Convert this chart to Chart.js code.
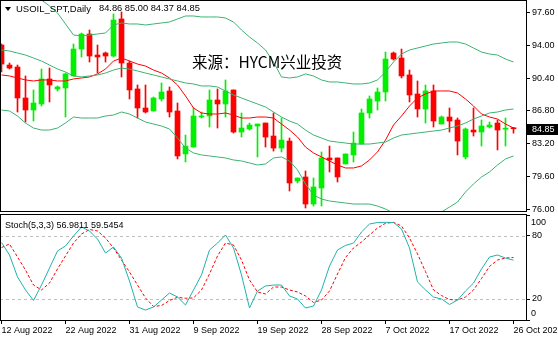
<!DOCTYPE html>
<html>
<head>
<meta charset="utf-8">
<script src="https://cdn.jsdelivr.net/npm/chart.js@4.4.0/dist/chart.umd.min.js"></script>
<style>
html, body { margin: 0; padding: 0; background: #fff; }
#wrap { position: relative; width: 558px; height: 337px; overflow: hidden; font-family: "Liberation Sans", Arial, sans-serif; }
canvas { position: absolute; left: 0; }
#main { top: 0; }
#stoch { top: 213px; }
.txt { position: absolute; white-space: nowrap; color: #000; }
</style>
</head>
<body>
<div id="wrap">
  <canvas id="main" width="558" height="213"></canvas>
  <canvas id="stoch" width="558" height="124"></canvas>
  <div style="position:absolute;left:5px;top:7px;width:0;height:0;border-left:3px solid transparent;border-right:3px solid transparent;border-top:4px solid #000"></div>
  <div class="txt" style="left:16px;top:4px;font-size:9.5px;line-height:9.5px">USOIL_SPT,Daily</div>
  <div class="txt" style="left:99px;top:4px;font-size:9.3px;line-height:9.3px">84.86 85.00 84.37 84.85</div>
  <div class="txt" style="left:192px;top:54px;font-size:15.5px;line-height:15px;font-family:'Noto Sans CJK SC',sans-serif">来源：HYCM兴业投资</div>
  <div class="txt" style="left:5px;top:221px;font-size:9px;line-height:9px">Stoch(5,3,3) 56.9811 59.5454</div>
</div>
<script>
// ============================
// Data (daily bars, Sunday bars included)
// ============================
const augDays = [12, 14, 15, 16, 17, 18, 19, 21, 22, 23, 24, 25, 26, 28, 29, 30, 31];
const sepDays = [1, 2, 4, 5, 6, 7, 8, 9, 11, 12, 13, 14, 15, 16, 18, 19, 20, 21, 22, 23, 25, 26, 27, 28, 29, 30];
const octDays = [2, 3, 4, 5, 6, 7, 9, 10, 11, 12, 13, 14, 16, 17, 18, 19, 20, 21, 23, 24, 25, 26];

const opens = [94.05,91.85,91.63,88.23,86.91,87.57,90.32,89.22,89.33,90.65,
  93.61,95.26,92.95,93.17,92.84,96.91,92.07,89.22,87.13,86.80,
  88.12,89.00,86.80,82.08,82.84,86.14,86.25,88.01,87.57,89.11,
  84.49,84.82,85.15,85.48,84.05,82.73,83.50,79.11,79.55,76.58,
  78.34,81.64,81.64,80.98,81.97,83.17,86.58,87.90,88.89,93.17,
  92.62,90.76,88.67,87.02,89.00,85.37,86.14,85.81,81.75,84.71,
  84.49,85.04,85.48,84.80,84.86];
const highs = [94.16,92.07,91.85,90.65,89.11,91.41,91.52,89.55,90.97,94.16,
  95.37,95.70,94.05,93.28,97.46,97.68,92.29,89.66,89.66,88.34,
  89.88,89.44,87.68,84.16,87.13,86.69,89.11,89.22,90.21,89.11,
  86.58,85.48,85.37,85.48,86.58,86.03,83.83,79.44,80.21,79.44,
  82.30,82.95,81.64,82.08,84.49,87.02,88.45,89.33,93.28,93.28,
  93.61,91.30,90.10,89.66,89.66,86.25,87.13,86.03,84.93,87.13,
  85.81,85.59,85.81,86.03,85.00];
const lows = [91.09,91.41,86.69,85.59,85.70,87.35,87.79,89.00,86.14,90.65,
  92.73,92.18,90.97,92.18,92.73,90.54,88.12,86.03,86.58,86.80,
  87.90,86.14,81.53,81.20,82.84,86.03,85.04,84.93,86.14,84.38,
  83.94,84.71,81.75,82.84,82.40,82.30,78.01,78.89,76.14,76.36,
  76.36,80.10,79.00,80.98,81.20,83.17,86.03,86.91,87.90,92.40,
  90.43,87.79,86.14,85.48,85.04,85.37,84.49,81.97,81.53,84.05,
  82.95,84.93,82.52,82.95,84.37];
const closes = [91.96,91.52,88.23,86.91,87.68,90.32,89.66,89.44,90.87,93.61,
  95.26,92.84,92.73,92.84,96.80,92.07,89.11,87.13,86.69,88.23,
  88.89,86.69,81.86,82.95,86.25,86.25,88.01,87.57,89.00,84.49,
  84.93,85.26,85.37,83.94,82.73,83.61,78.89,79.44,76.58,78.45,
  81.64,81.42,79.55,82.08,83.28,86.58,88.12,88.89,92.51,92.51,
  90.65,88.56,87.02,89.00,85.70,86.14,85.70,83.50,84.82,84.49,
  85.15,85.26,84.71,84.86,84.85];

// Bollinger bands
const bandUpper = [100.10,100.00,100.10,100.30,99.90,99.00,98.34,97.57,96.36,95.15,
  95.04,95.15,95.26,95.37,96.25,96.47,96.36,96.36,96.25,96.36,
  96.47,96.58,96.91,97.24,97.24,97.13,97.13,97.13,97.02,96.58,
  95.70,94.93,94.27,93.50,92.18,90.54,90.43,90.54,90.87,90.65,
  90.21,89.99,89.99,89.88,89.77,89.77,89.88,90.21,91.09,92.18,
  93.06,93.50,93.72,93.94,94.16,94.27,94.38,94.38,94.16,93.72,
  93.28,93.06,92.95,92.51,92.18];
const bandMiddle = [93.50,93.39,93.17,92.95,92.62,92.29,91.85,91.41,91.09,90.65,
  90.54,90.65,90.76,90.97,91.30,91.52,91.41,91.20,90.97,90.76,
  90.54,90.32,90.10,89.88,89.77,89.55,89.55,89.44,89.00,88.56,
  88.23,87.90,87.57,87.24,86.69,86.14,85.70,85.37,84.71,84.16,
  83.83,83.50,83.39,83.28,83.17,83.17,83.17,83.28,83.39,83.83,
  84.16,84.27,84.38,84.49,84.60,84.71,84.93,85.15,85.48,85.92,
  86.25,86.58,86.69,86.91,87.02];
const bandLower = [86.91,86.80,86.25,85.48,84.93,84.71,84.71,84.93,85.48,86.14,
  86.03,86.03,86.03,86.25,86.36,86.69,86.47,86.03,85.59,85.37,
  85.15,84.82,83.83,82.73,82.19,81.97,81.86,81.75,81.64,81.42,
  81.31,81.09,80.87,80.98,81.64,81.75,81.31,80.32,78.78,77.57,
  77.13,76.91,76.80,76.69,76.58,76.58,76.58,76.36,76.03,75.59,
  75.26,75.04,75.04,75.15,75.37,75.70,76.25,76.80,77.90,78.78,
  79.55,80.10,80.87,81.53,81.86];
// moving average (red)
const maLine = [90.76,90.65,90.43,90.21,90.10,90.21,90.21,90.10,90.10,90.32,
  90.43,90.54,90.87,91.41,92.29,92.62,92.29,91.96,91.74,91.30,
  90.97,90.43,89.66,88.45,87.13,86.58,86.47,86.47,86.58,86.36,
  86.03,86.03,86.14,86.14,86.03,85.37,84.71,83.94,82.84,82.19,
  81.75,81.31,80.87,80.54,80.54,80.76,81.42,82.30,83.61,85.26,
  86.25,87.35,88.23,88.67,89.00,89.00,89.00,88.78,88.12,87.35,
  86.47,86.14,85.92,85.37,84.93];

// Stochastic(5,3,3)
const stochMain = [73.8,61.9,41.0,28.6,18.6,33.3,49.5,65.7,70.5,80.0,
  88.6,84.8,77.1,63.8,69.5,59.0,37.1,12.4,9.5,12.4,
  19.0,25.7,21.9,14.3,28.6,42.9,66.7,73.3,81.0,68.6,
  42.9,11.4,27.6,32.4,33.3,33.3,22.9,20.0,11.4,13.3,
  28.6,51.4,66.7,71.0,73.3,83.8,91.4,92.9,93.0,92.9,
  86.7,68.6,36.2,28.6,21.9,20.0,14.8,19.0,27.6,35.2,
  48.6,60.0,61.9,59.0,56.98];
const stochSignal = [69.0,72.4,60.0,47.6,33.3,28.6,35.2,48.6,61.0,73.3,
  81.9,86.2,84.8,78.1,68.6,57.1,45.7,33.3,21.0,12.9,
  13.8,18.6,21.6,20.7,21.0,28.6,43.8,61.0,73.3,71.4,
  57.1,38.1,26.7,24.8,31.4,31.4,28.6,26.7,22.9,16.7,
  19.0,27.6,43.8,59.5,68.6,74.3,81.0,87.6,92.1,93.0,
  89.5,78.1,62.9,46.0,28.6,23.3,19.5,19.0,21.9,28.6,
  39.5,51.0,57.1,59.0,59.55];
const stochLevels = [20, 80];

const priceTicks = [76.00, 79.60, 83.20, 86.80, 90.40, 94.00, 97.60];
const stochTicks = [0, 20, 80, 100];
const dateTickIdx = [0, 8, 16, 24, 32, 40, 48, 56, 64];

// ============================
// Helpers
// ============================
const dates = []
  .concat(augDays.map(d => d + ' Aug 2022'))
  .concat(sepDays.map(d => d + ' Sep 2022'))
  .concat(octDays.map(d => d + ' Oct 2022'));
const idx = dates.map((d, i) => i);
const xMin = -0.1875, xMax = 65.5625;
const axisFont = { family: 'Liberation Sans', size: 9 };

function pts(arr) { return arr.map((v, i) => ({ x: i, y: v })); }
const candleColor = idx.map(i => closes[i] >= opens[i] ? '#00f000' : '#ff0000');

function lineSet(arr, color) {
    return { type: 'line', data: pts(arr), borderColor: color, borderWidth: 1,
             pointRadius: 0, tension: 0, order: 0 };
}

const frame = {
    id: 'frame',
    afterDraw(chart) {
        const a = chart.chartArea, ctx = chart.ctx;
        ctx.save();
        ctx.strokeStyle = '#000';
        ctx.lineWidth = 1;
        ctx.strokeRect(a.left + 0.5, a.top - 0.5, a.right - a.left, a.bottom - a.top + 1);
        ctx.restore();
    }
};

const priceTag = {
    id: 'priceTag',
    afterDraw(chart) {
        const y = chart.scales.y.getPixelForValue(closes[closes.length - 1]);
        const ctx = chart.ctx;
        ctx.save();
        ctx.fillStyle = '#000';
        ctx.fillRect(chart.chartArea.right + 1, Math.round(y) - 5, 31, 11);
        ctx.fillStyle = '#fff';
        ctx.font = '9px "Liberation Sans"';
        ctx.textBaseline = 'middle';
        ctx.fillText(closes[closes.length - 1].toFixed(2), chart.chartArea.right + 6, Math.round(y) + 0.5);
        ctx.restore();
    }
};

const levels = {
    id: 'levels',
    beforeDatasetsDraw(chart) {
        const a = chart.chartArea, ctx = chart.ctx;
        ctx.save();
        ctx.strokeStyle = '#c0c0c0';
        ctx.lineWidth = 1;
        ctx.setLineDash([3, 3]);
        stochLevels.forEach(l => {
            const y = Math.round(chart.scales.y.getPixelForValue(l)) + 0.5;
            ctx.beginPath();
            ctx.moveTo(a.left, y);
            ctx.lineTo(a.right, y);
            ctx.stroke();
        });
        ctx.restore();
    }
};

// 100 and 0 are drawn inside the window like the terminal does
const edgeLabels = {
    id: 'edgeLabels',
    afterDraw(chart) {
        const s = chart.scales.y, ctx = chart.ctx;
        ctx.save();
        ctx.fillStyle = '#000';
        ctx.font = '9px "Liberation Sans"';
        ctx.textBaseline = 'middle';
        ctx.fillText('100', chart.chartArea.right + 5, s.getPixelForValue(100) + 7.5);
        ctx.fillText('0', chart.chartArea.right + 5, s.getPixelForValue(0) - 6.5);
        ctx.restore();
    }
};

// ============================
// Price window
// ============================
new Chart(document.getElementById('main'), {
    type: 'bar',
    data: {
        datasets: [
            lineSet(bandUpper, '#3cb371'),
            lineSet(bandMiddle, '#3cb371'),
            lineSet(bandLower, '#3cb371'),
            lineSet(maLine, '#ff0000'),
            { data: idx.map(i => ({ x: i, y: [opens[i], closes[i]] })), backgroundColor: candleColor,
              barThickness: 5, minBarLength: 1, grouped: false, order: 1 },
            { data: idx.map(i => ({ x: i, y: [lows[i], highs[i]] })), backgroundColor: candleColor,
              barThickness: 1, grouped: false, order: 2 }
        ]
    },
    options: {
        responsive: false,
        animation: false,
        devicePixelRatio: 1,
        layout: { padding: { top: 1, bottom: 2, left: 0, right: 0 } },
        plugins: { legend: { display: false }, tooltip: { enabled: false } },
        scales: {
            x: { type: 'linear', min: xMin, max: xMax, offset: false, grid: { offset: false }, display: false },
            y: {
                position: 'right', min: 75.813, max: 98.885,
                afterBuildTicks: s => { s.ticks = priceTicks.map(v => ({ value: v })); },
                afterFit: s => { s.width = 32; s.paddingTop = 0; s.paddingBottom = 0; },
                ticks: { font: axisFont, color: '#000', padding: 2, callback: v => v.toFixed(2) },
                grid: { drawOnChartArea: false, tickLength: 4, color: '#000' },
                border: { color: '#000' }
            }
        }
    },
    plugins: [frame, priceTag]
});

// ============================
// Stochastic window
// ============================
new Chart(document.getElementById('stoch'), {
    type: 'line',
    data: {
        datasets: [
            { data: pts(stochMain), borderColor: '#20b2aa', borderWidth: 1, pointRadius: 0, tension: 0 },
            { data: pts(stochSignal), borderColor: '#ff0000', borderWidth: 1, borderDash: [3, 2], pointRadius: 0, tension: 0 }
        ]
    },
    options: {
        responsive: false,
        animation: false,
        devicePixelRatio: 1,
        layout: { padding: { top: 2, bottom: 0, left: 0, right: 0 } },
        plugins: { legend: { display: false }, tooltip: { enabled: false } },
        scales: {
            x: {
                type: 'linear', min: xMin, max: xMax, offset: false,
                afterBuildTicks: s => { s.ticks = dateTickIdx.map(v => ({ value: v })); },
                afterFit: s => { s.height = 17; s.paddingLeft = 0; s.paddingRight = 0; },
                ticks: { font: axisFont, color: '#000', autoSkip: false, maxRotation: 0, align: 'start',
                         padding: 1, callback: v => dates[v] },
                grid: { drawOnChartArea: false, tickLength: 4, color: '#000' },
                border: { color: '#000' }
            },
            y: {
                position: 'right', min: 0, max: 100,
                afterBuildTicks: s => { s.ticks = stochTicks.map(v => ({ value: v })); },
                afterFit: s => { s.width = 32; s.paddingTop = 0; s.paddingBottom = 0; },
                ticks: { font: axisFont, color: '#000', padding: 2,
                         callback: v => (stochLevels.includes(v) ? String(v) : '') },
                grid: { drawOnChartArea: false, tickLength: 4, color: '#000' },
                border: { color: '#000' }
            }
        }
    },
    plugins: [frame, levels, edgeLabels]
});
</script>
</body>
</html>
